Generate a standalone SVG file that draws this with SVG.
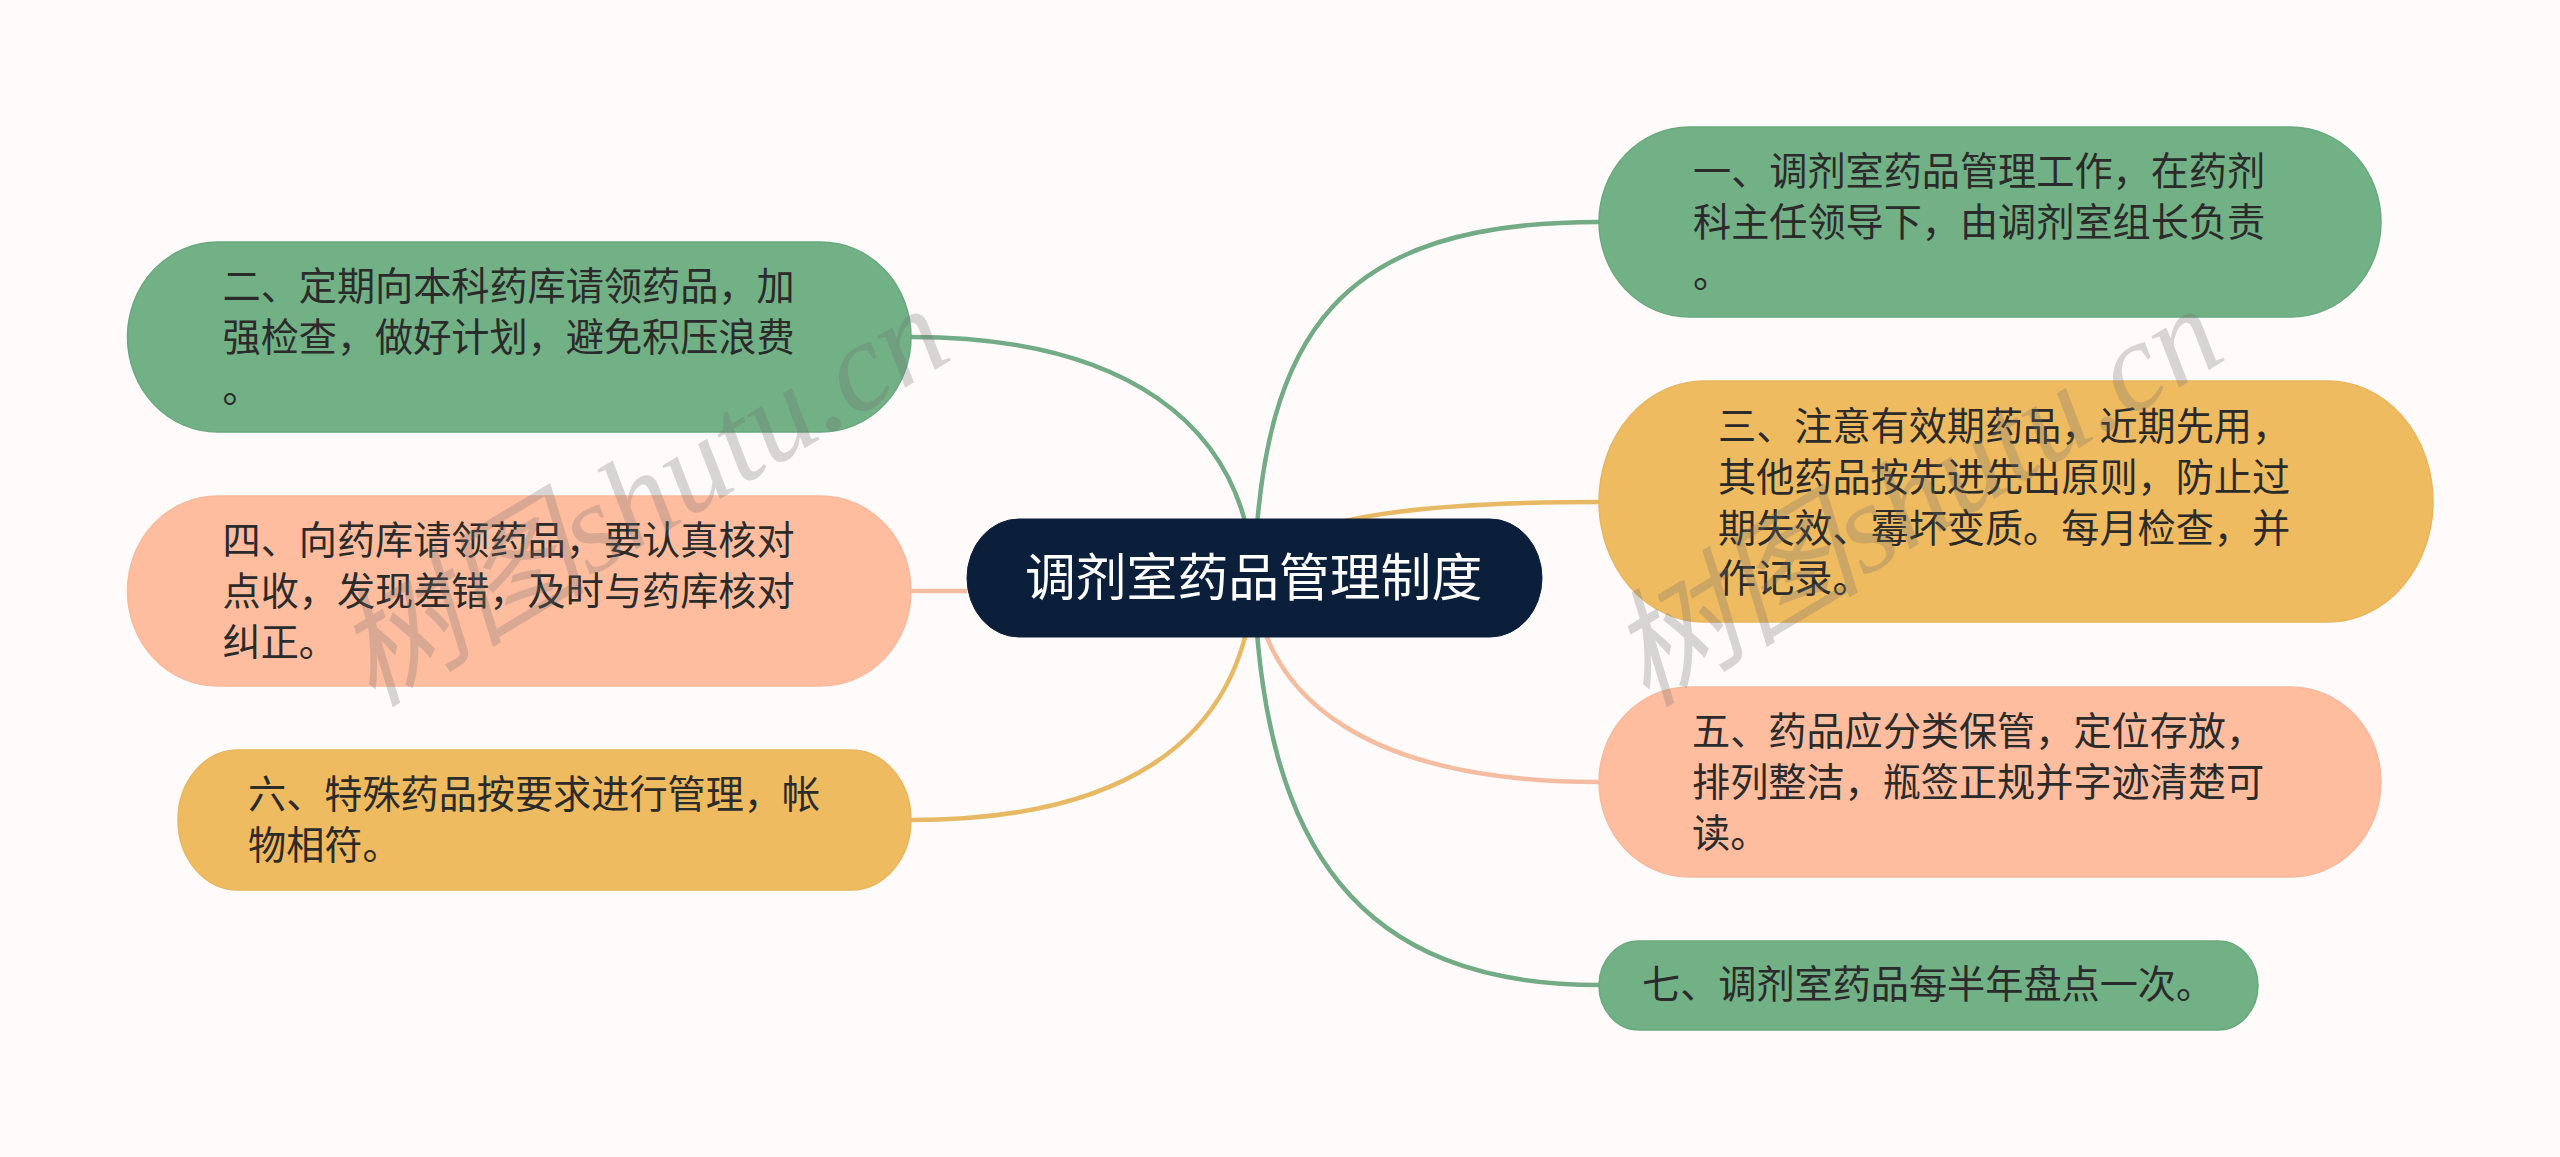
<svg xmlns="http://www.w3.org/2000/svg" width="2560" height="1157" viewBox="0 0 2560 1157">
<style>
.n{stroke-width:1.5}
.g{fill:#72b086;stroke:#6aa97f}
.o{fill:#efbb60;stroke:#e9b65f}
.p{fill:#ffbd9f;stroke:#f9b99c}
.t{font-family:"Noto Sans CJK SC","Noto Sans",sans-serif;font-size:38.15px;fill:#2b2b2b}
.c{fill:none;stroke-width:4.5}
.cg{stroke:#72ab85}.co{stroke:#e8b964}.cp{stroke:#f4bda2}
.w{font-size:127px;fill:#6e6e6e;fill-opacity:.27}
</style>
<rect width="2560" height="1157" fill="#fefbfa"/>
<g id="connectors">
<path class="c cg" d="M1254 578C1262 330 1340 222 1599 222"/>
<path class="c co" d="M1254 578C1270 520 1400 502 1599 502"/>
<path class="c cp" d="M1254 578C1262 700 1370 782 1599 782"/>
<path class="c cg" d="M1254 578C1262 850 1360 985 1599 985"/>
<path class="c cg" d="M911 337C1120 337 1245 420 1254 578"/>
<path class="c cp" d="M911 591H967"/>
<path class="c co" d="M911 820C1110 820 1245 750 1254 578"/>
</g>
<g id="root"><rect x="967" y="519" width="575" height="118" rx="52" ry="59" fill="#0c1f3a" stroke="#0c1f3a"/>
<text x="1025" y="596" font-family="'Noto Sans CJK SC','Noto Sans',sans-serif" font-size="50.800" fill="#fff">调剂室药品管理制度</text></g>
<g id="node1"><rect class="n g" x="1599" y="127" width="782" height="190" rx="90" ry="95"/>
<text class="t"><tspan x="1693" y="185">一、调剂室药品管理工作，在药剂</tspan><tspan x="1693" y="236">科主任领导下，由调剂室组长负责</tspan><tspan x="1693" y="287">。</tspan></text></g>
<g id="node2"><rect class="n g" x="127.500" y="242" width="783.500" height="190" rx="90" ry="95"/>
<text class="t"><tspan x="222.500" y="300">二、定期向本科药库请领药品，加</tspan><tspan x="222.500" y="351">强检查，做好计划，避免积压浪费</tspan><tspan x="222.500" y="402">。</tspan></text></g>
<g id="node3"><rect class="n o" x="1599" y="381" width="834" height="241" rx="105" ry="120.500"/>
<text class="t"><tspan x="1718" y="440">三、注意有效期药品，近期先用，</tspan><tspan x="1718" y="491">其他药品按先进先出原则，防止过</tspan><tspan x="1718" y="542">期失效、霉坏变质。每月检查，并</tspan><tspan x="1718" y="592">作记录。</tspan></text></g>
<g id="node4"><rect class="n p" x="127.500" y="496" width="783.500" height="190" rx="90" ry="95"/>
<text class="t"><tspan x="222.500" y="554">四、向药库请领药品，要认真核对</tspan><tspan x="222.500" y="605">点收，发现差错，及时与药库核对</tspan><tspan x="222.500" y="656">纠正。</tspan></text></g>
<g id="node5"><rect class="n p" x="1599" y="687" width="782" height="190" rx="90" ry="95"/>
<text class="t"><tspan x="1692" y="745">五、药品应分类保管，定位存放，</tspan><tspan x="1692" y="796">排列整洁，瓶签正规并字迹清楚可</tspan><tspan x="1692" y="847">读。</tspan></text></g>
<g id="node6"><rect class="n o" x="178" y="750" width="733" height="140" rx="60" ry="70"/>
<text class="t"><tspan x="248" y="808">六、特殊药品按要求进行管理，帐</tspan><tspan x="248" y="859">物相符。</tspan></text></g>
<g id="node7"><rect class="n g" x="1599" y="941" width="659" height="89" rx="40" ry="44.500"/>
<text class="t"><tspan x="1642" y="998">七、调剂室药品每半年盘点一次。</tspan></text></g>
<g id="watermarks">
<text class="w" transform="translate(372 708) rotate(-31)" font-family="'Liberation Serif','Noto Sans CJK SC',serif" font-style="italic">树图shutu.cn</text>
<text class="w" transform="translate(1646 708) rotate(-31)" font-family="'Liberation Serif','Noto Sans CJK SC',serif" font-style="italic">树图shutu.cn</text>
</g>
</svg>
